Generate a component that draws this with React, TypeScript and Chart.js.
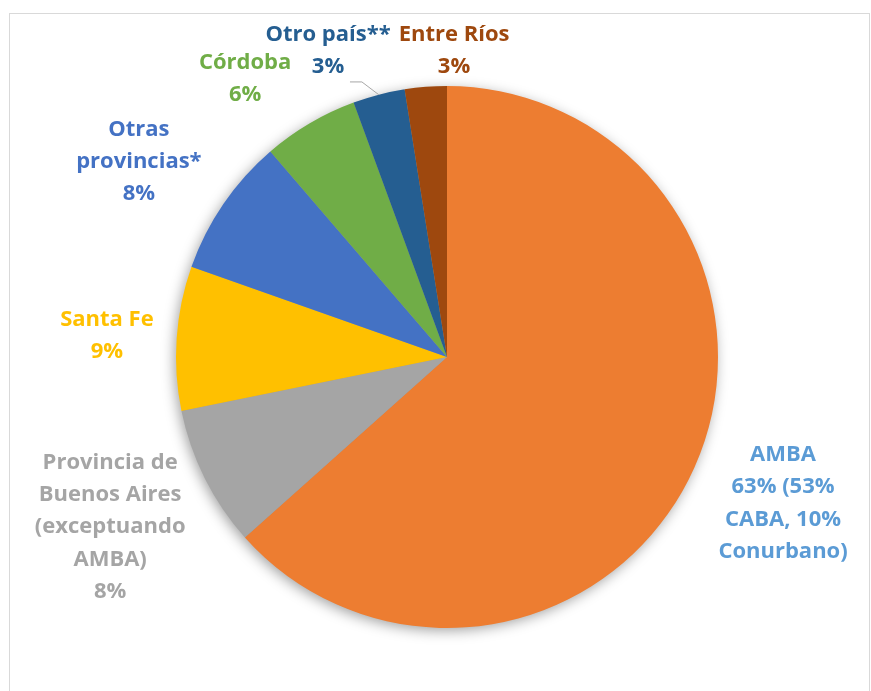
import { useEffect, useRef } from "react";
import { Chart, registerables } from "chart.js";

Chart.register(...registerables);

const categories = [
  "AMBA",
  "Provincia de Buenos Aires (exceptuando AMBA)",
  "Santa Fe",
  "Otras provincias*",
  "Córdoba",
  "Otro país**",
  "Entre Ríos",
];
const shares = [63.4, 8.4, 8.6, 8.3, 5.7, 3.1, 2.5];
const labelLines = [
  ["AMBA", "63% (53%", "CABA, 10%", "Conurbano)"],
  ["Provincia de", "Buenos Aires", "(exceptuando", "AMBA)", "8%"],
  ["Santa Fe", "9%"],
  ["Otras", "provincias*", "8%"],
  ["Córdoba", "6%"],
  ["Otro país**", "3%"],
  ["Entre Ríos", "3%"],
];
const sliceColors = ["#ED7D31", "#A5A5A5", "#FFC000", "#4472C4", "#70AD47", "#255E91", "#9E480E"];
const labelColors = ["#5B9BD5", "#A5A5A5", "#FFC000", "#4472C4", "#70AD47", "#255E91", "#9E480E"];
// label block centre, relative to pie centre, in units of the radius
const labelOffsets = [
  [1.24, 0.54],
  [-1.243, 0.628],
  [-1.255, -0.078],
  [-1.137, -0.72],
  [-0.745, -1.026],
  [-0.439, -1.129],
  [0.026, -1.129],
];

const FONT = "bold 22px 'Open Sans', sans-serif";
const LINE_H = 32.3;

const labelPlugin = {
  id: "outsideLabels",
  beforeDatasetsDraw(chart: any) {
    const meta = chart.getDatasetMeta(0);
    const a = meta.data[0];
    if (!a) return;
    const { x, y, outerRadius } = a.getProps(["x", "y", "outerRadius"], true);
    const ctx = chart.ctx;
    ctx.save();
    ctx.shadowColor = "rgba(0,0,0,0.4)";
    ctx.shadowBlur = 14;
    ctx.shadowOffsetX = -2;
    ctx.shadowOffsetY = 3;
    ctx.fillStyle = "#999";
    ctx.beginPath();
    ctx.arc(x, y, outerRadius - 1, 0, Math.PI * 2);
    ctx.fill();
    ctx.restore();
  },
  afterDatasetsDraw(chart: any) {
    const meta = chart.getDatasetMeta(0);
    const ctx = chart.ctx;
    const a0 = meta.data[0];
    if (!a0) return;
    const { x: cx, y: cy, outerRadius: r } = a0.getProps(["x", "y", "outerRadius"], true);
    ctx.save();
    ctx.font = FONT;
    ctx.textAlign = "center";
    ctx.textBaseline = "middle";
    labelLines.forEach((lines, i) => {
      const lx = cx + labelOffsets[i][0] * r;
      const ly = cy + labelOffsets[i][1] * r;
      ctx.fillStyle = labelColors[i];
      const top = ly - ((lines.length - 1) * LINE_H) / 2;
      lines.forEach((t, j) => ctx.fillText(t, lx, top + j * LINE_H));
    });
    // leader line for "Otro país**"
    const arc = meta.data[5];
    const { startAngle, endAngle } = arc.getProps(["startAngle", "endAngle"], true);
    const mid = (startAngle + endAngle) / 2;
    const ex = cx + Math.cos(mid) * r;
    const ey = cy + Math.sin(mid) * r;
    ctx.strokeStyle = "#A6A6A6";
    ctx.lineWidth = 1;
    ctx.beginPath();
    ctx.moveTo(cx - 0.358 * r, cy - 1.015 * r);
    ctx.lineTo(cx - 0.314 * r, cy - 1.015 * r);
    ctx.lineTo(ex, ey);
    ctx.stroke();
    ctx.restore();
  },
};

export default function App() {
  const ref = useRef<HTMLCanvasElement>(null);
  useEffect(() => {
    if (!ref.current) return;
    const chart = new Chart(ref.current, {
      type: "pie",
      data: {
        labels: categories,
        datasets: [
          {
            data: shares,
            backgroundColor: sliceColors,
            borderWidth: 0,
          },
        ],
      },
      options: {
        responsive: false,
        animation: false,
        layout: { padding: { left: 176, right: 153, top: 86, bottom: 63 } },
        plugins: {
          legend: { display: false },
          tooltip: { enabled: false },
        },
      },
      plugins: [labelPlugin],
    });
    return () => chart.destroy();
  }, []);
  return (
    <>
      <div
        style={{
          position: "absolute",
          left: 9,
          top: 13,
          width: 861,
          height: 700,
          border: "1px solid #D9D9D9",
          boxSizing: "border-box",
        }}
      />
      <canvas
        ref={ref}
        width={871}
        height={691}
        style={{ position: "absolute", left: 0, top: 0, width: 871, height: 691 }}
      />
    </>
  );
}
